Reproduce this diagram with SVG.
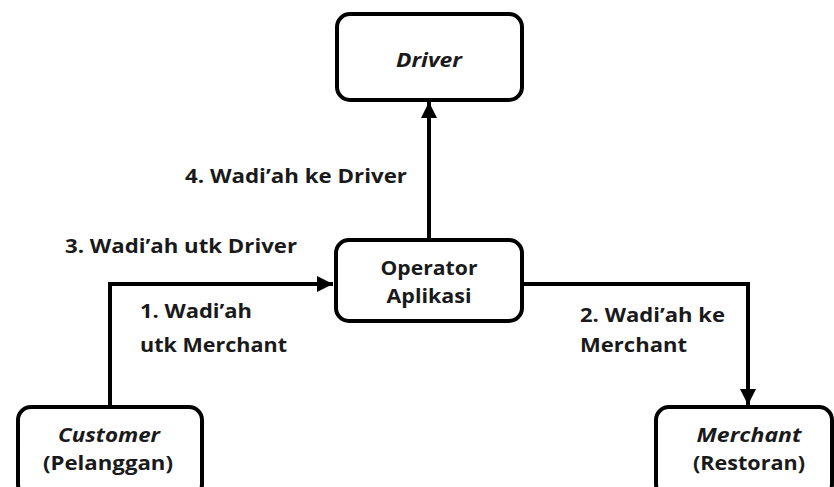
<svg xmlns="http://www.w3.org/2000/svg" width="834" height="487" viewBox="0 0 834 487">
<defs>
<style>
.box{fill:#fff;stroke:#000;stroke-width:4}
.t{font-family:"Open Sans","Noto Sans",sans-serif;font-weight:bold;font-size:20px;fill:#1a1a1a}
.c{text-anchor:middle}
.i{font-style:italic}
.ln{fill:none;stroke:#000;stroke-width:4}
</style>
<marker id="ah" viewBox="0 0 10 10" refX="10" refY="5" markerWidth="4" markerHeight="4" markerUnits="strokeWidth" orient="auto">
<path d="M0,0 L10,5 L0,10 z" fill="#000"/>
</marker>
</defs>
<rect width="834" height="487" fill="#fff"/>
<g id="connectors">
<line class="ln" x1="429" y1="240" x2="429" y2="102" marker-end="url(#ah)"/>
<polyline class="ln" points="110,407 110,284 333,284" marker-end="url(#ah)"/>
<polyline class="ln" points="522,284 748,284 748,405" marker-end="url(#ah)"/>
</g>
<g id="driver">
<rect class="box" x="337" y="14" width="185" height="86" rx="13"/>
<text class="t c i" x="429" y="67" textLength="66" lengthAdjust="spacingAndGlyphs">Driver</text>
</g>
<g id="operator">
<rect class="box" x="336" y="240" width="186" height="81" rx="13"/>
<text class="t c" x="429" y="275" textLength="97" lengthAdjust="spacingAndGlyphs">Operator</text>
<text class="t c" x="429" y="303" textLength="85" lengthAdjust="spacingAndGlyphs">Aplikasi</text>
</g>
<g id="customer">
<rect class="box" x="18" y="407" width="184" height="90" rx="13"/>
<text class="t c i" x="109" y="442" textLength="102" lengthAdjust="spacingAndGlyphs">Customer</text>
<text class="t c" x="108" y="470" textLength="130" lengthAdjust="spacingAndGlyphs">(Pelanggan)</text>
</g>
<g id="merchant">
<rect class="box" x="656" y="407" width="176" height="90" rx="13"/>
<text class="t c i" x="749" y="442" textLength="105" lengthAdjust="spacingAndGlyphs">Merchant</text>
<text class="t c" x="749" y="470" textLength="112" lengthAdjust="spacingAndGlyphs">(Restoran)</text>
</g>
<g id="labels">
<text class="t" x="185" y="183" textLength="222" lengthAdjust="spacingAndGlyphs">4. Wadi’ah ke Driver</text>
<text class="t" x="65" y="253" textLength="232" lengthAdjust="spacingAndGlyphs">3. Wadi’ah utk Driver</text>
<text class="t" x="140" y="318" textLength="112" lengthAdjust="spacingAndGlyphs">1. Wadi’ah</text>
<text class="t" x="140" y="352" textLength="147" lengthAdjust="spacingAndGlyphs">utk Merchant</text>
<text class="t" x="580" y="322" textLength="145" lengthAdjust="spacingAndGlyphs">2. Wadi’ah ke</text>
<text class="t" x="580" y="352" textLength="107" lengthAdjust="spacingAndGlyphs">Merchant</text>
</g>
</svg>
